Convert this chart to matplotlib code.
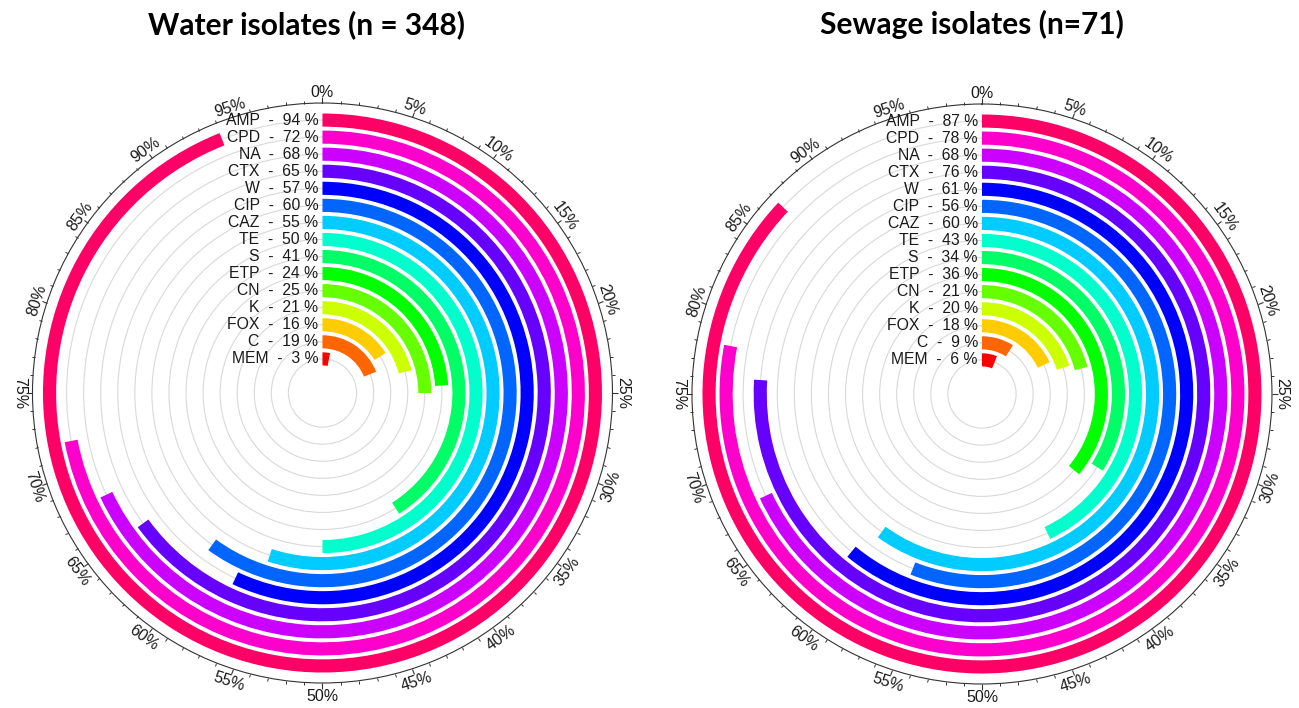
import matplotlib

matplotlib.use('Agg')
import matplotlib.pyplot as plt
import numpy as np

plt.rcParams['font.family'] = ['Liberation Sans', 'DejaVu Sans']

# antibiotics, outer ring first
drugs = ['AMP', 'CPD', 'NA', 'CTX', 'W', 'CIP', 'CAZ', 'TE', 'S', 'ETP', 'CN', 'K', 'FOX', 'C', 'MEM']
water_pct = [94, 72, 68, 65, 57, 60, 55, 50, 41, 24, 25, 21, 16, 19, 3]
sewage_pct = [87, 78, 68, 76, 61, 56, 60, 43, 34, 36, 21, 20, 18, 9, 6]
colors = ['#FF0066', '#FF00CC', '#CC00FF', '#6600FF', '#0000FF', '#0066FF', '#00CCFF', '#00FFCC',
          '#00FF66', '#00FF00', '#66FF00', '#CCFF00', '#FFCC00', '#FF6600', '#FF0000']
major_pct = list(range(0, 100, 5))
minor_pct = list(range(0, 100, 1))

titles = ['Water isolates (n = 348)', 'Sewage isolates (n=71)']

fig = plt.figure(figsize=(12.99, 7.08), dpi=100)


def draw_radial(rect, values, title, title_x):
    ax = fig.add_axes(rect, projection='polar')
    ax.set_theta_zero_location('N')
    ax.set_theta_direction(-1)
    ax.set_ylim(0, 17)

    n = len(drugs)
    radii = [2 + (n - 1 - i) for i in range(n)]
    for r, v, c, name in zip(radii, values, colors, drugs):
        ax.bar(0, 0.77, width=np.deg2rad(v * 3.6), bottom=r - 0.385, align='edge',
               color=c, edgecolor='none', zorder=3)
        ax.annotate('{}  -  {} %'.format(name, v), xy=(0, r), xytext=(-3, 0),
                    textcoords='offset points', ha='right', va='center', fontsize=11.3,
                    color='#1a1a1a', zorder=4)

    ax.set_yticks(radii)
    ax.set_yticklabels([])
    ax.yaxis.grid(True, color='#d9d9d9', linewidth=0.8)
    ax.xaxis.grid(False)

    ax.set_xticks(np.deg2rad(np.array(major_pct) * 3.6))
    ax.set_xticklabels([])
    ax.set_xticks(np.deg2rad(np.array(minor_pct) * 3.6), minor=True)
    # outer circle ticks are the "top" ones in a polar axes
    ax.tick_params(axis='x', which='both', top=True, bottom=False, direction='out', color='#333333')
    ax.tick_params(axis='x', which='major', length=4, width=0.8)
    ax.tick_params(axis='x', which='minor', length=2.2, width=0.7)
    ax.spines['polar'].set_linewidth(0.8)
    ax.spines['polar'].set_color('#333333')

    for p in major_pct:
        deg = p * 3.6
        rot = -deg
        if 90 < deg <= 270:
            rot += 180
        ax.text(np.deg2rad(deg), 17.68, '{}%'.format(p), rotation=rot, rotation_mode='anchor',
                ha='center', va='center_baseline', fontsize=11.5, color='#1a1a1a')

    fig.text(title_x, 0.965, title, ha='center', va='center', fontsize=21.5,
             fontweight='bold', family=['Lato', 'DejaVu Sans'])


draw_radial([0.0250, 0.0353, 0.4465, 0.8192], water_pct, titles[0], 307 / 1299)
draw_radial([0.5327, 0.0339, 0.4465, 0.8192], sewage_pct, titles[1], 972 / 1299)

plt.savefig('out.png', dpi=100)
